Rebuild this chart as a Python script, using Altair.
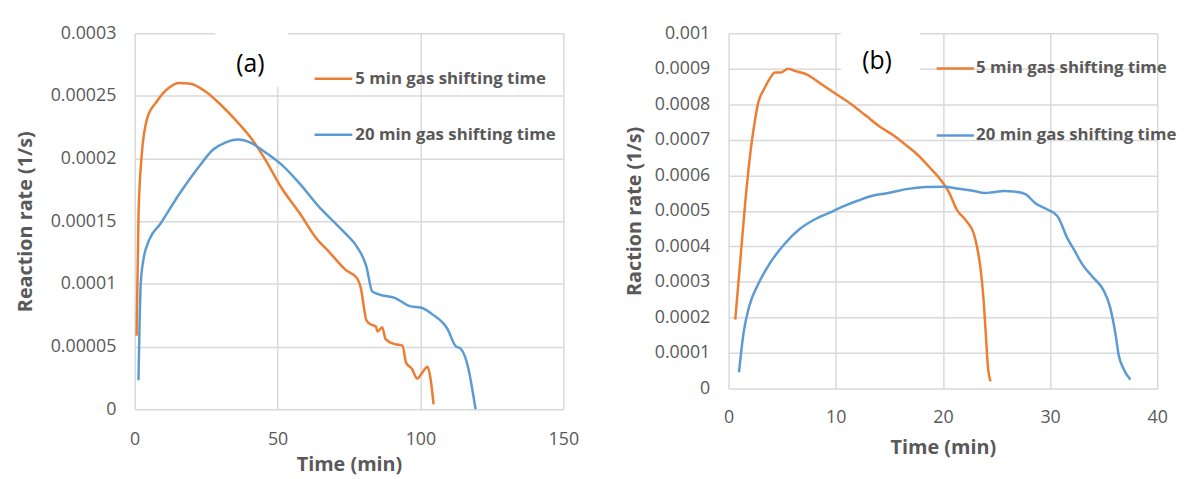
import altair as alt
import pandas as pd

SERIES = ["5 min gas shifting time", "20 min gas shifting time"]
COLORS = ["#ED7D31", "#5B9BD5"]
FONT = "Open Sans"
GRAY = "#595959"

# ---------------- panel (a) ----------------
a5_t = [0.66, 1.32, 2.38, 4.37, 7.67, 11.64, 15.6, 19.6, 24.9, 30.2, 36.8, 40.7, 46.0, 51.3,
        57.9, 63.2, 68.5, 73.8, 77.8, 79.1, 81.1, 82.4, 84.4, 85.0, 86.6, 87.8, 91.0, 93.7,
        95.0, 97.0, 98.9, 100.4, 102.5, 103.5, 104.6]
a5_r = [5.86e-5, 1.533e-4, 2.006e-4, 2.321e-4, 2.453e-4, 2.558e-4, 2.603e-4, 2.597e-4, 2.532e-4,
        2.427e-4, 2.269e-4, 2.164e-4, 1.98e-4, 1.769e-4, 1.559e-4, 1.375e-4, 1.244e-4, 1.112e-4,
        1.046e-4, 9.7e-5, 7.1e-5, 6.8e-5, 6.6e-5, 6.2e-5, 6.55e-5, 5.6e-5, 5.2e-5, 5.07e-5,
        3.7e-5, 3.23e-5, 2.45e-5, 2.85e-5, 3.39e-5, 2.5e-5, 4.0e-6]
a20_t = [1.32, 2.12, 3.04, 5.03, 9.0, 15.6, 22.2, 27.5, 31.5, 36.1, 40.7, 46.0, 51.3, 57.9,
         64.6, 69.8, 73.8, 77.8, 81.1, 83.1, 85.7, 91.0, 96.3, 100.3, 104.2, 109.5, 112.2,
         114.2, 116.8, 118.1, 119.3]
a20_r = [2.31e-5, 1.007e-4, 1.191e-4, 1.349e-4, 1.48e-4, 1.717e-4, 1.927e-4, 2.072e-4, 2.124e-4,
         2.151e-4, 2.124e-4, 2.045e-4, 1.953e-4, 1.796e-4, 1.612e-4, 1.493e-4, 1.401e-4, 1.296e-4,
         1.138e-4, 9.41e-5, 9.15e-5, 8.89e-5, 8.23e-5, 8.1e-5, 7.57e-5, 6.39e-5, 5.07e-5,
         4.81e-5, 3.23e-5, 1.66e-5, 0.0]

# ---------------- panel (b) ----------------
b5_t = [0.62, 1.04, 1.56, 2.08, 2.43, 2.77, 3.3, 3.8, 4.34, 4.86, 5.55, 6.24, 7.28, 8.67, 10.06,
        11.45, 12.8, 14.2, 15.4, 16.6, 17.7, 18.7, 19.8, 20.6, 21.3, 22.2, 22.9, 23.2, 23.5,
        23.8, 24.0, 24.2, 24.45]
b5_r = [1.94e-4, 3.41e-4, 5.26e-4, 6.75e-4, 7.49e-4, 8.05e-4, 8.42e-4, 8.7e-4, 8.89e-4, 8.89e-4,
        9.0e-4, 8.93e-4, 8.84e-4, 8.56e-4, 8.28e-4, 8.0e-4, 7.68e-4, 7.35e-4, 7.12e-4, 6.84e-4,
        6.56e-4, 6.24e-4, 5.87e-4, 5.5e-4, 5.03e-4, 4.71e-4, 4.34e-4, 3.96e-4, 3.41e-4, 2.48e-4,
        1.55e-4, 6.2e-5, 2.0e-5]
b20_t = [0.97, 1.39, 1.9, 2.77, 3.8, 5.2, 6.6, 7.98, 9.37, 10.75, 12.1, 13.5, 14.9, 16.6, 18.4,
         20.1, 21.5, 22.9, 23.9, 24.6, 25.7, 26.7, 27.7, 28.6, 29.8, 30.7, 31.6, 32.3, 33.0,
         34.0, 35.0, 35.6, 36.1, 36.4, 36.9, 37.5]
b20_r = [4.55e-5, 1.55e-4, 2.29e-4, 2.94e-4, 3.5e-4, 4.06e-4, 4.48e-4, 4.75e-4, 4.94e-4, 5.13e-4,
         5.29e-4, 5.43e-4, 5.5e-4, 5.61e-4, 5.67e-4, 5.68e-4, 5.62e-4, 5.56e-4, 5.5e-4, 5.52e-4,
         5.56e-4, 5.54e-4, 5.47e-4, 5.22e-4, 5.03e-4, 4.85e-4, 4.24e-4, 3.87e-4, 3.5e-4,
         3.13e-4, 2.76e-4, 2.29e-4, 1.55e-4, 9.5e-5, 5.3e-5, 2.5e-5]

a_xticks = [0, 50, 100, 150]
a_yticks = [0, 0.00005, 0.0001, 0.00015, 0.0002, 0.00025, 0.0003]
b_xticks = [0, 10, 20, 30, 40]
b_yticks = [0, 0.0001, 0.0002, 0.0003, 0.0004, 0.0005, 0.0006, 0.0007, 0.0008, 0.0009, 0.001]

# panel tags, legend anchors and white box behind the tag (data coordinates)
a_tag = {"t": 40.5, "r": 2.756e-4, "text": "(a)"}
b_tag = {"t": 13.85, "r": 9.21e-4, "text": "(b)"}
a_leg_t = [62.96, 76.16, 77.2]
a_leg_r = [2.637e-4, 2.19e-4]
b_leg_t = [19.42, 22.89, 23.1]
b_leg_r = [9.006e-4, 7.12e-4]
a_box = {"t": 28.2, "t2": 53.6, "r": 2.572e-4, "r2": 3.03e-4}
b_box = {"t": 10.49, "t2": 17.86, "r": 8.85e-4, "r2": 1.01e-3}


def panel(t5, r5, t20, r20, xdom, xticks, ydom, yticks, yfmt, ytitle, w, h,
          xlabpad, xtitlepad, ytitlepad, tag, leg_t, leg_r, box):
    df = pd.concat([
        pd.DataFrame({"t": t5, "r": r5, "series": SERIES[0]}),
        pd.DataFrame({"t": t20, "r": r20, "series": SERIES[1]}),
    ])
    xscale = alt.Scale(domain=xdom, nice=False, zero=False)
    xaxis = alt.Axis(values=xticks, title="Time (min)", labelPadding=xlabpad,
                     titlePadding=xtitlepad, labelFlush=False)
    X = alt.X("t:Q", scale=xscale, axis=xaxis)
    Y = alt.Y("r:Q", scale=alt.Scale(domain=ydom, nice=False, zero=False),
              axis=alt.Axis(values=yticks, format=yfmt, title=ytitle, labelPadding=19,
                            titlePadding=ytitlepad, labelFlush=False))
    col = alt.Color("series:N", scale=alt.Scale(domain=SERIES, range=COLORS), legend=None)

    box_df = pd.DataFrame([box])
    rect = alt.Chart(box_df).mark_rect(color="white").encode(
        x=X, x2="t2:Q", y=Y, y2="r2:Q")

    lines = alt.Chart(df).mark_line(strokeWidth=2.5, interpolate="monotone").encode(
        x=X, y=Y, color=col, detail="series:N")

    leg_df = pd.DataFrame({"t": [leg_t[0]] * 2, "t2": [leg_t[1]] * 2, "r": leg_r,
                           "series": SERIES, "tx": [leg_t[2]] * 2})
    leg_rule = alt.Chart(leg_df).mark_rule(strokeWidth=2.5).encode(
        x=X, x2="t2:Q", y=Y, color=col)
    leg_text = alt.Chart(leg_df).mark_text(
        align="left", baseline="middle", font=FONT, fontSize=17, fontWeight="bold",
        color=GRAY).encode(x=alt.X("tx:Q", scale=xscale, axis=xaxis), y=Y, text="series:N")

    tag_df = pd.DataFrame([tag])
    tag_text = alt.Chart(tag_df).mark_text(
        align="center", baseline="middle", font=FONT, fontSize=25, color="#000000").encode(
        x=X, y=Y, text="text:N")

    return alt.layer(rect, lines, leg_rule, leg_text, tag_text).properties(width=w, height=h)


left = panel(a5_t, a5_r, a20_t, a20_r, [0, 150], a_xticks, [0, 0.0003], a_yticks, ".5~f",
             "Reaction rate (1/s)", 433, 380, 22, 6, 15, a_tag, a_leg_t, a_leg_r, a_box)
right = panel(b5_t, b5_r, b20_t, b20_r, [0, 40], b_xticks, [0, 0.001], b_yticks, ".4~f",
              "Raction rate (1/s)", 433, 359, 20, 12, 10, b_tag, b_leg_t, b_leg_r, b_box)

chart = alt.hconcat(left, right, spacing=45).properties(
    padding={"left": 7, "top": 14, "right": 0, "bottom": 0},
    background="white",
).configure_view(stroke=None).configure_axis(
    grid=True, gridColor="#d9d9d9", gridWidth=1.5, domain=False, ticks=False,
    labelFont=FONT, labelFontSize=18, labelColor=GRAY, labelOverlap=False,
    titleFont=FONT, titleFontSize=20, titleFontWeight="bold", titleColor=GRAY,
)

chart.save("out.html", embed_options={"renderer": "svg", "actions": False})
